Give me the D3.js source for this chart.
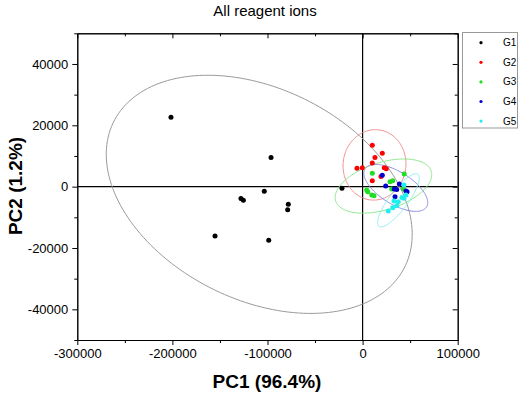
<!DOCTYPE html>
<html>
<head>
<meta charset="utf-8">
<script src="https://cdn.jsdelivr.net/npm/d3@7"></script>
<style>
  body { margin: 0; background: #fff; }
  svg { font-family: "Liberation Sans", Arial, sans-serif; }
</style>
</head>
<body>
<div id="container"></div>
<script>
// groups + colours
const groups = ["G1", "G2", "G3", "G4", "G5"];
const dotColors = ["#000000", "#ff0000", "#22dd22", "#0000cc", "#22eeee"];
const ellipseColors = ["#9a9a9a", "#f09090", "#90e890", "#8c8ce0", "#90eeee"];

// PC scores
const g1X = [-201500, -96300, -103400, -127900, -125400, -78100, -78800, -155200, -98700, -21700];
const g1Y = [22600, 9500, -1500, -3900, -4400, -5700, -7500, -16100, -17500, -550];
const g2X = [10200, 20700, 13000, 10200, -5900, -300, 22800, 24900, 19300, 10200];
const g2Y = [13500, 10900, 9500, 7700, 6000, 6200, 6200, 5800, 3300, 1900];
const g3X = [10200, 28800, 31600, 43800, 4300, 5400, 9600, 12000, 30600, 42800];
const g3Y = [4400, 1600, 1900, 4100, -1100, -1700, -2700, -3000, -800, -800];
const g4X = [20700, 24300, 38600, 33300, 35900, 45600, 46700, 34100];
const g4Y = [3700, 200, 900, -800, -900, -1400, -1700, -3300];
const g5X = [43500, 45600, 43500, 41400, 37500, 33000, 35900, 31700, 27000];
const g5Y = [500, -2700, -3800, -3500, -4900, -4700, -6200, -6900, -7900];

const xsByGroup = [g1X, g2X, g3X, g4X, g5X];
const ysByGroup = [g1Y, g2Y, g3Y, g4Y, g5Y];

const xMajor = [-300000, -200000, -100000, 0, 100000];
const xMinor = [-250000, -150000, -50000, 50000];
const yMajor = [-40000, -20000, 0, 20000, 40000];
const yMinor = [-50000, -30000, -10000, 10000, 30000, 50000];

const width = 522, height = 396;
const plotL = 77.3, plotR = 457.7, plotT = 33.3, plotB = 340;

const svg = d3.select("#container").append("svg")
  .attr("width", width).attr("height", height);

const x = d3.scaleLinear().domain([-300000, 100000]).range([plotL, plotR]);
const y = d3.scaleLinear().domain([-50000, 50000]).range([plotB, plotT]);

svg.append("text")
  .attr("x", 265).attr("y", 16)
  .attr("text-anchor", "middle")
  .style("font-size", "15px")
  .text("All reagent ions");

svg.append("clipPath").attr("id", "plotclip")
  .append("rect")
  .attr("x", plotL).attr("y", plotT)
  .attr("width", plotR - plotL).attr("height", plotB - plotT);

const plot = svg.append("g").attr("clip-path", "url(#plotclip)");

// zero lines
plot.append("line")
  .attr("x1", plotL).attr("x2", plotR)
  .attr("y1", y(0)).attr("y2", y(0))
  .attr("stroke", "#000").attr("stroke-width", 1.2);
plot.append("line")
  .attr("x1", x(0)).attr("x2", x(0))
  .attr("y1", plotT).attr("y2", plotB)
  .attr("stroke", "#000").attr("stroke-width", 1.2);

// 95% confidence ellipse (prediction) from the group scores
const confEllipse = (xs, ys) => {
  const n = xs.length;
  const mx = d3.mean(xs), my = d3.mean(ys);
  let sxx = 0, syy = 0, sxy = 0;
  for (let i = 0; i < n; i++) {
    sxx += (xs[i] - mx) ** 2;
    syy += (ys[i] - my) ** 2;
    sxy += (xs[i] - mx) * (ys[i] - my);
  }
  sxx /= n - 1; syy /= n - 1; sxy /= n - 1;
  const m = n - 2;
  const f = (m / 2) * (Math.pow(0.05, -2 / m) - 1);
  const k = Math.sqrt((2 * (n * n - 1)) / (n * m) * f);
  const tr = (sxx + syy) / 2;
  const disc = Math.sqrt(((sxx - syy) / 2) ** 2 + sxy * sxy);
  const l1 = tr + disc, l2 = tr - disc;
  const ang = Math.atan2(l1 - sxx, sxy);
  const pts = [];
  for (let t = 0; t < 360; t += 2) {
    const a = (t * Math.PI) / 180;
    const u = k * Math.sqrt(l1) * Math.cos(a);
    const v = k * Math.sqrt(Math.max(l2, 0)) * Math.sin(a);
    pts.push([
      mx + u * Math.cos(ang) - v * Math.sin(ang),
      my + u * Math.sin(ang) + v * Math.cos(ang),
    ]);
  }
  return pts;
};

const line = d3.line()
  .x((d) => x(d[0]))
  .y((d) => y(d[1]))
  .curve(d3.curveLinearClosed);

groups.forEach((g, gi) => {
  plot.append("path")
    .datum(confEllipse(xsByGroup[gi], ysByGroup[gi]))
    .attr("d", line)
    .attr("fill", "none")
    .attr("stroke", ellipseColors[gi])
    .attr("stroke-width", 1);
});

groups.forEach((g, gi) => {
  plot.append("g").selectAll("circle")
    .data(d3.zip(xsByGroup[gi], ysByGroup[gi]))
    .enter()
    .append("circle")
    .attr("cx", (d) => x(d[0]))
    .attr("cy", (d) => y(d[1]))
    .attr("r", 2.5)
    .attr("fill", dotColors[gi]);
});

// axes
const fmt = (d) => d3.format("d")(d).replace("−", "-");
const styleAxis = (sel) => {
  sel.selectAll("path").attr("stroke", "#000");
  sel.selectAll("line").attr("stroke", "#000");
  sel.selectAll("text").style("font-size", "13px").attr("fill", "#000")
    .style("font-family", '"Liberation Sans", Arial, sans-serif');
};

svg.append("g").attr("transform", `translate(0,${plotB})`)
  .call(d3.axisBottom(x).tickValues(xMajor).tickFormat(fmt).tickSize(5).tickSizeOuter(0).tickPadding(4))
  .call(styleAxis);
svg.append("g").attr("transform", `translate(0,${plotB})`)
  .call(d3.axisBottom(x).tickValues(xMinor).tickFormat("").tickSize(3).tickSizeOuter(0))
  .call(styleAxis);
svg.append("g").attr("transform", `translate(0,${plotT})`)
  .call(d3.axisTop(x).tickValues(xMajor).tickFormat("").tickSize(-5).tickSizeOuter(0))
  .call(styleAxis);
svg.append("g").attr("transform", `translate(0,${plotT})`)
  .call(d3.axisTop(x).tickValues(xMinor).tickFormat("").tickSize(-3).tickSizeOuter(0))
  .call(styleAxis);

svg.append("g").attr("transform", `translate(${plotL},0)`)
  .call(d3.axisLeft(y).tickValues(yMajor).tickFormat(fmt).tickSize(5).tickSizeOuter(0).tickPadding(4))
  .call(styleAxis);
svg.append("g").attr("transform", `translate(${plotL},0)`)
  .call(d3.axisLeft(y).tickValues(yMinor).tickFormat("").tickSize(3).tickSizeOuter(0))
  .call(styleAxis);
svg.append("g").attr("transform", `translate(${plotR},0)`)
  .call(d3.axisRight(y).tickValues(yMajor).tickFormat("").tickSize(-5).tickSizeOuter(0))
  .call(styleAxis);
svg.append("g").attr("transform", `translate(${plotR},0)`)
  .call(d3.axisRight(y).tickValues(yMinor).tickFormat("").tickSize(-3).tickSizeOuter(0))
  .call(styleAxis);

// axis titles
svg.append("text")
  .attr("x", 267).attr("y", 388)
  .attr("text-anchor", "middle")
  .style("font-size", "19px").style("font-weight", "bold")
  .text("PC1 (96.4%)");
svg.append("text")
  .attr("transform", "translate(22,186) rotate(-90)")
  .attr("text-anchor", "middle")
  .style("font-size", "19px").style("font-weight", "bold")
  .text("PC2 (1.2%)");

// legend
const legend = svg.append("g").attr("id", "legend");
legend.append("rect")
  .attr("x", 462.5).attr("y", 32.5)
  .attr("width", 55).attr("height", 95.5)
  .attr("fill", "#fff").attr("stroke", "#999");
const rows = legend.selectAll("g.row").data(groups).enter()
  .append("g").attr("class", "row")
  .attr("transform", (d, i) => `translate(0,${42.7 + i * 19.6})`);
rows.append("circle")
  .attr("cx", 481).attr("cy", 0).attr("r", 1.6)
  .attr("fill", (d, i) => dotColors[i]);
rows.append("text")
  .attr("x", 503).attr("y", 3.5)
  .style("font-size", "10px")
  .text((d) => d);
</script>
</body>
</html>
